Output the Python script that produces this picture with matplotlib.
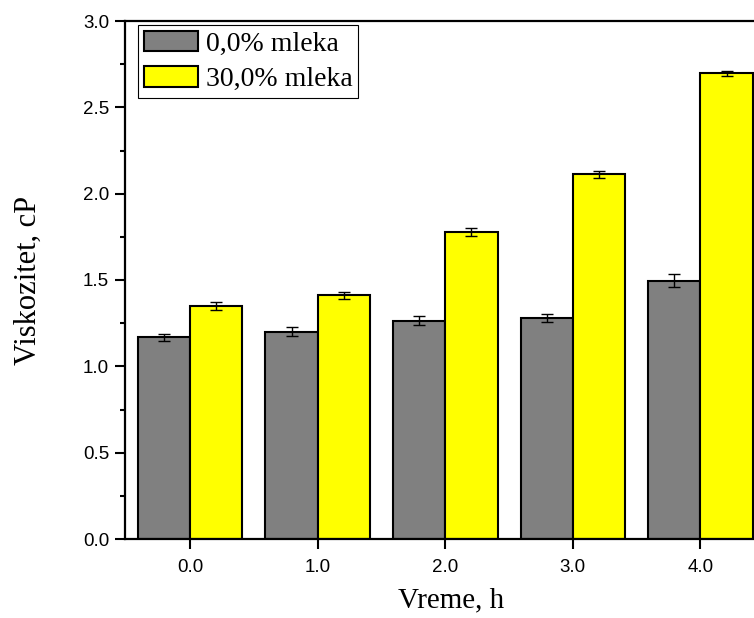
import matplotlib
matplotlib.use("Agg")
import matplotlib.pyplot as plt
from matplotlib.ticker import MultipleLocator, FormatStrFormatter
import numpy as np

# data
times = [0.0, 1.0, 2.0, 3.0, 4.0]
tick_labels = ["0.0", "1.0", "2.0", "3.0", "4.0"]
milk_0 = [1.168, 1.201, 1.264, 1.278, 1.497]
milk_0_err = [0.022, 0.025, 0.026, 0.023, 0.040]
milk_30 = [1.352, 1.411, 1.779, 2.112, 2.697]
milk_30_err = [0.023, 0.021, 0.025, 0.022, 0.015]
series_names = ["0,0% mleka", "30,0% mleka"]

serif = ["Liberation Serif", "DejaVu Serif"]
sans = ["Liberation Sans", "DejaVu Sans"]

fig = plt.figure(figsize=(7.54, 6.18), dpi=100)
# axes: left spine at px 125, bottom at px 539, top at px 21, runs past the right edge
ax = fig.add_axes([125 / 754, 79 / 618, 652 / 754, 518 / 618])

x = np.array(times)
w = 0.41
ekw = dict(ecolor="black", elinewidth=1.0, capsize=4, capthick=1.0)
ax.bar(x - w / 2, milk_0, w, yerr=milk_0_err, color="#808080",
       edgecolor="black", linewidth=1.5, label=series_names[0], error_kw=ekw)
ax.bar(x + w / 2, milk_30, w, yerr=milk_30_err, color="#ffff00",
       edgecolor="black", linewidth=1.5, label=series_names[1], error_kw=ekw)

ax.set_xlim(-0.51, 4.6)
ax.set_ylim(0, 3.0)
ax.set_xticks(times)
ax.set_xticklabels(tick_labels)
ax.yaxis.set_major_locator(MultipleLocator(0.5))
ax.yaxis.set_minor_locator(MultipleLocator(0.25))
ax.yaxis.set_major_formatter(FormatStrFormatter("%.1f"))

for s in ["left", "bottom", "top"]:
    ax.spines[s].set_linewidth(1.6)
ax.spines["right"].set_visible(False)
ax.tick_params(which="major", direction="out", length=7.5, width=1.5,
               labelsize=13.5, pad=4)
ax.tick_params(which="minor", direction="out", length=3.8, width=1.5)
ax.tick_params(axis="x", which="major", pad=7)
for lab in ax.get_xticklabels() + ax.get_yticklabels():
    lab.set_family(sans)

ax.set_xlabel("Vreme, h", family=serif, fontsize=21, labelpad=8)
ax.set_ylabel("Viskozitet, cP", family=serif, fontsize=22, labelpad=29)

leg = ax.legend(loc="upper left", bbox_to_anchor=(0.02, 0.992),
                borderaxespad=0, prop={"family": serif, "size": 20},
                fancybox=False, edgecolor="black", framealpha=1,
                handlelength=1.95, handleheight=0.75, borderpad=0.2,
                labelspacing=0.35, handletextpad=0.3)
leg.get_frame().set_linewidth(0.8)

fig.savefig("out.png", dpi=100)
